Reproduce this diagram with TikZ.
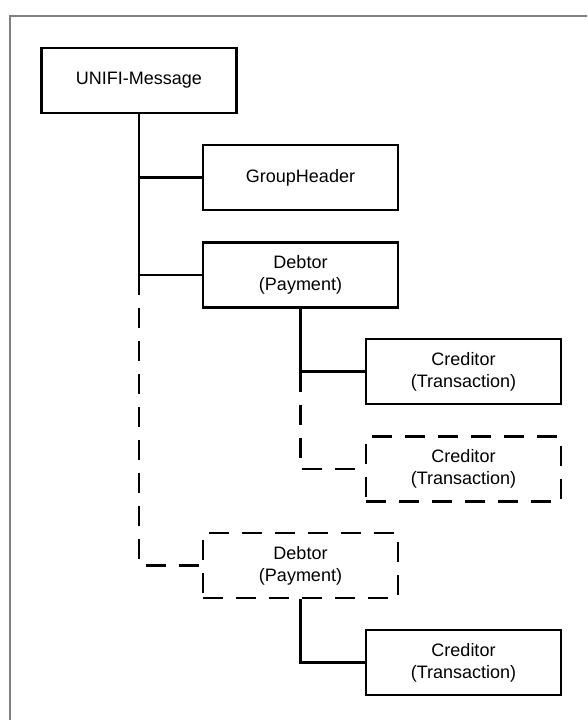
\documentclass[tikz,border=0pt]{standalone}
\usepackage{fontspec}
\setmainfont{Liberation Sans}
\begin{document}
\begin{tikzpicture}[x=1pt,y=-1pt,
  box/.style={draw=black,line width=2.6pt,minimum width=195pt,minimum height=65pt,inner sep=0pt,align=center,font=\fontsize{18}{22}\selectfont},
  dbox/.style={box,dash pattern=on 20pt off 13pt},
  conn/.style={line width=2.6pt},
  dconn/.style={line width=2.6pt,dash pattern=on 20pt off 13pt}]
\useasboundingbox (0,0) rectangle (587,720);
\begin{scope}
\clip (0,0) rectangle (587,720);
\draw[line width=2pt,draw={rgb,255:red,128;green,128;blue,128}] (10,16) rectangle (600,740);
\end{scope}
\node[box] (unifi) at (139,80.5) {UNIFI-Message};
\node[box] (gh) at (300.5,177.5) {GroupHeader};
\node[box] (d1) at (300.5,275) {Debtor\\(Payment)};
\node[box] (c1) at (463.5,371.5) {Creditor\\(Transaction)};
\node[dbox] (c2) at (463.5,469) {Creditor\\(Transaction)};
\node[dbox] (d2) at (300.5,565.5) {Debtor\\(Payment)};
\node[box] (c3) at (463.5,662.5) {Creditor\\(Transaction)};
\coordinate (t1) at (unifi.south |- d1.west);
\coordinate (t2) at (d1.south |- c1.west);
\draw[conn] (unifi.south) -- (t1) -- (d1.west);
\draw[conn] (unifi.south |- gh.west) -- (gh.west);
\draw[dconn] (t1) |- (d2.west);
\draw[conn] (d1.south) -- (t2) -- (c1.west);
\draw[dconn] (t2) |- (c2.west);
\draw[conn] (d2.south) |- (c3.west);
\end{tikzpicture}
\end{document}
